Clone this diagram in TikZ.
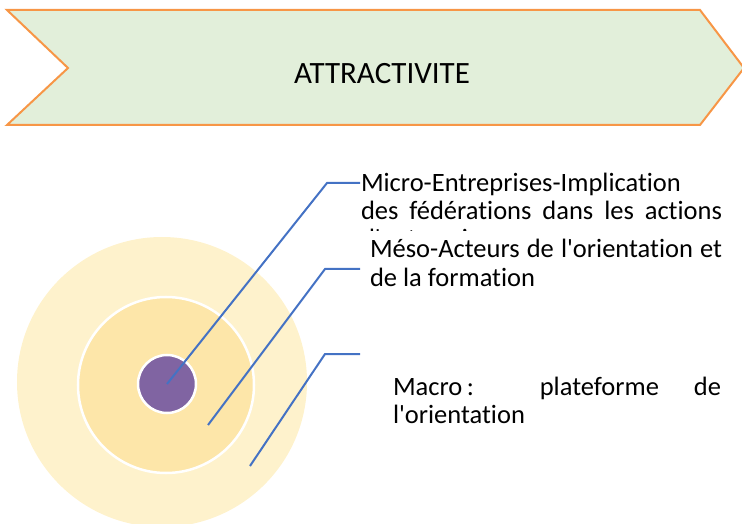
\documentclass[tikz,border=0pt]{standalone}
\usepackage{fontspec}
\setmainfont{Carlito}[Ligatures={NoCommon}]
\definecolor{chevfill}{HTML}{E2EFDA}
\definecolor{chevline}{HTML}{F79646}
\definecolor{outerring}{HTML}{FEF2CC}
\definecolor{innerring}{HTML}{FDE6A9}
\definecolor{corefill}{HTML}{8064A2}
\definecolor{leadercol}{HTML}{4472C4}
\newcommand{\ap}{\textquotesingle}
\tikzset{
  chev/.style={draw=chevline, fill=chevfill, line width=2bp, line join=miter},
  ring/.style={circle, inner sep=0pt, outer sep=0pt},
  leader/.style={draw=leadercol, line width=2bp},
  txt/.style={anchor=base west, inner sep=0pt, outer sep=0pt, font=\fontsize{26.5bp}{28bp}\selectfont},
}
\begin{document}
\begin{tikzpicture}[x=1bp,y=-1bp]
\useasboundingbox (0,0) rectangle (742,524);
\begin{scope}
\clip (0,0) rectangle (742,524);
% banner
\draw[chev] (7,10) -- (700,10) -- (744,68) -- (700,125) -- (7,125) -- (68,68) -- cycle;
\node[anchor=base, inner sep=0pt, font=\fontsize{31bp}{33bp}\selectfont] (title) at (382,84) {ATTRACTIVITE};
% target
\node[ring, fill=outerring, minimum size=290bp] (outer) at (162,382) {};
\node[ring, fill=innerring, draw=white, line width=2.5bp, minimum size=176bp] (inner) at (166,385) {};
\node[ring, fill=corefill, draw=white, line width=2.5bp, minimum size=58bp] (core) at (167,384) {};
% texts
\node[txt] (mi1) at (361,192) {Micro-Entreprises-Implication};
\node[txt] (mi2) at (361,220) {\makebox[361bp][s]{des fédérations dans les actions}};
\begin{scope}
\clip (300,200) rectangle (742,231);
\node[txt] (mi3) at (361,248) {d\ap entreprises};
\end{scope}
\node[txt] (me1) at (370,258) {\makebox[352bp][s]{Méso-Acteurs de l\ap orientation et}};
\node[txt] (me2) at (370,287) {de la formation};
\node[txt] (ma1) at (393,395) {\makebox[328bp][s]{Macro\,: plateforme de}};
\node[txt] (ma2) at (393,423) {l\ap orientation};
% leaders
\coordinate (s2) at (208,425);
\coordinate (s3) at (250,466);
\coordinate (k1) at (327,183);
\coordinate (k2) at (325,269);
\coordinate (k3) at (325,354);
\coordinate (h1) at (360,183);
\coordinate (h2) at (360,269);
\coordinate (h3) at (360,354);
\draw[leader] (core.center) -- (k1) -- (h1);
\draw[leader] (s2) -- (k2) -- (h2);
\draw[leader] (s3) -- (k3) -- (h3);
\end{scope}
\end{tikzpicture}
\end{document}
